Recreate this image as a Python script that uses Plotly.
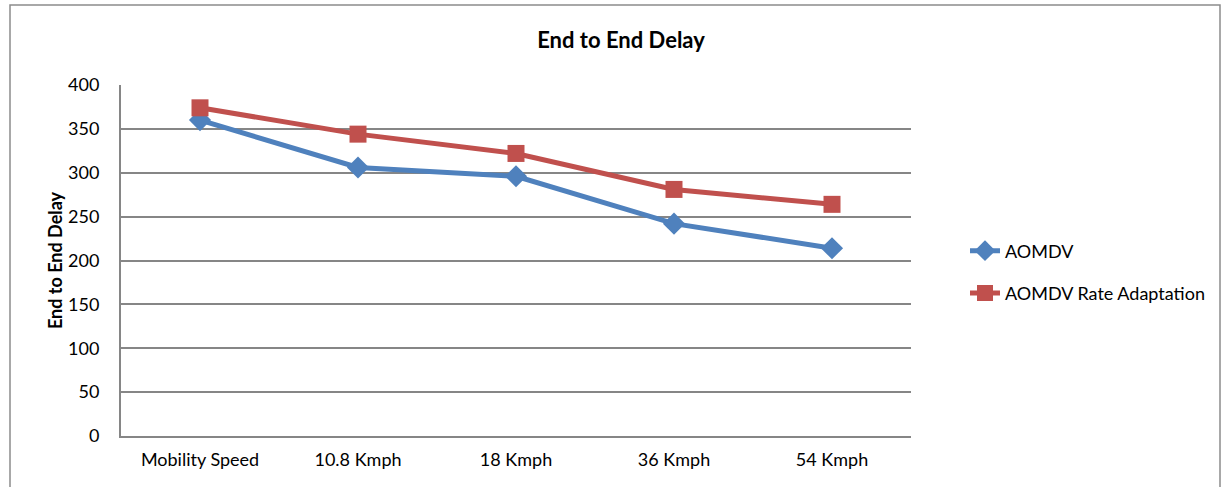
import plotly.graph_objects as go

categories = ["Mobility Speed", "10.8 Kmph", "18 Kmph", "36 Kmph", "54 Kmph"]
aomdv = [360, 306, 296, 242, 214]
aomdv_rate = [374, 344, 322, 281, 264]
y_ticks = [0, 50, 100, 150, 200, 250, 300, 350, 400]

FONT = "Lato, 'Open Sans', sans-serif"
W, H = 1225, 487
L, R, T, B = 121, 911, 85, 436

fig = go.Figure()
fig.add_trace(go.Scatter(
    x=list(range(len(categories))), y=aomdv, name="AOMDV", mode="lines+markers",
    line=dict(color="#4F81BD", width=5),
    marker=dict(symbol="diamond", size=17, color="#4F81BD"),
    legendgroup="a",
))
fig.add_trace(go.Scatter(
    x=list(range(len(categories))), y=aomdv_rate, name="AOMDV Rate Adaptation", mode="lines+markers",
    line=dict(color="#C0504D", width=5),
    marker=dict(symbol="square", size=17, color="#C0504D"),
    legendgroup="b",
))

pw = R - L
ph = B - T
fig.add_shape(type="rect", xref="paper", yref="paper",
              x0=(10 - L) / pw, x1=(1220 - L) / pw,
              y0=(B - 520) / ph, y1=(B - 5) / ph,
              line=dict(color="#8C8C8C", width=1.5), fillcolor="rgba(0,0,0,0)", layer="below")

fig.update_layout(
    width=W, height=H,
    margin=dict(l=L, r=W - R, t=T, b=H - B),
    paper_bgcolor="white", plot_bgcolor="white",
    font=dict(family=FONT, size=18, color="black"),
    title=dict(text="<b>End to End Delay</b>", x=621 / W, xanchor="center",
               y=1 - 40 / H, yanchor="middle", font=dict(size=22, family=FONT)),
    showlegend=True,
    legend=dict(x=(965 - L) / pw, xanchor="left", y=(B - 272) / ph, yanchor="middle",
                tracegroupgap=16, font=dict(size=18, family=FONT),
                bgcolor="rgba(0,0,0,0)"),
    xaxis=dict(
        tickmode="array", tickvals=list(range(len(categories))), ticktext=categories,
        range=[-0.5, len(categories) - 0.5], showgrid=False, zeroline=False,
        showline=True, linecolor="#868686", linewidth=2, ticks="",
        ticklabelstandoff=6,
        tickfont=dict(size=18, family=FONT),
    ),
    yaxis=dict(
        range=[0, 400], tickvals=y_ticks, showgrid=True, gridcolor="#868686", gridwidth=1.5,
        zeroline=False, showline=True, linecolor="#868686", linewidth=2,
        ticks="", ticklabelstandoff=16,
        tickfont=dict(size=18, family=FONT),
        title=dict(text="<b>End to End Delay</b>", font=dict(size=18, family=FONT), standoff=1),
    ),
)

fig.write_html("out.html", config={"displayModeBar": False},
               post_script="document.body.style.margin='0';document.body.style.padding='0';")
